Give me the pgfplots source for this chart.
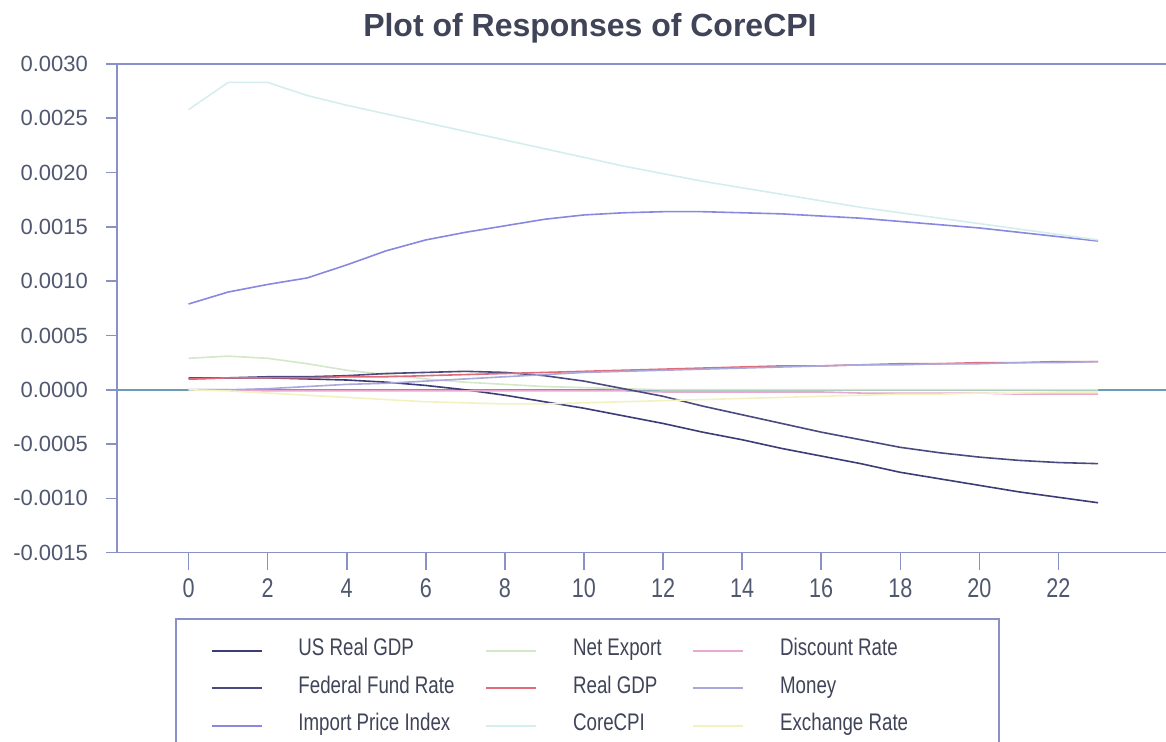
\documentclass[border=0pt]{standalone}
\usepackage{fontspec}
\setmainfont{Liberation Sans}
\newfontfamily\legendfont{Liberation Sans}[FakeStretch=0.78]
\newfontfamily\xtickfont{Liberation Sans}[FakeStretch=0.8]
\usepackage{pgfplots}
\pgfplotsset{compat=1.18}
\usepackage{pgfplotstable}

\definecolor{axiscol}{HTML}{8A90C8}
\definecolor{labelcol}{HTML}{505870}
\definecolor{titlecol}{HTML}{404458}
\definecolor{zerocol}{HTML}{6A9EB0}
\definecolor{cUSGDP}{HTML}{3C3C78}
\definecolor{cFFR}{HTML}{4A4A80}
\definecolor{cIPI}{HTML}{8888E0}
\definecolor{cNX}{HTML}{D2E8C8}
\definecolor{cRGDP}{HTML}{E06A78}
\definecolor{cCPI}{HTML}{D4EEEE}
\definecolor{cDR}{HTML}{E8A8D0}
\definecolor{cMoney}{HTML}{A8A8DC}
\definecolor{cER}{HTML}{F2F2C0}

\pgfplotstableread{
t usgdp ffr ipi nx rgdp cpi dr money er
0 0.00010 0.00011 0.00079 0.00029 0.00010 0.00258 0.00000 0.00000 0.00000
1 0.00011 0.00011 0.00090 0.00031 0.00011 0.00283 0.00000 0.00000 -0.00001
2 0.00011 0.00012 0.00097 0.00029 0.00011 0.00283 -0.00001 0.00001 -0.00003
3 0.00010 0.00012 0.00103 0.00024 0.00011 0.00271 -0.00001 0.00003 -0.00005
4 0.00009 0.00013 0.00115 0.00018 0.00012 0.00262 -0.00001 0.00005 -0.00007
5 0.00007 0.00015 0.00128 0.00014 0.00012 0.00254 -0.00001 0.00006 -0.00009
6 0.00004 0.00016 0.00138 0.00010 0.00013 0.00246 -0.00001 0.00008 -0.00011
7 0.00000 0.00017 0.00145 0.00007 0.00014 0.00238 -0.00001 0.00010 -0.00012
8 -0.00005 0.00016 0.00151 0.00005 0.00015 0.00230 -0.00001 0.00012 -0.00013
9 -0.00011 0.00013 0.00157 0.00003 0.00016 0.00222 -0.00001 0.00014 -0.00013
10 -0.00017 0.00008 0.00161 0.00002 0.00017 0.00214 -0.00001 0.00016 -0.00012
11 -0.00024 0.00001 0.00163 0.00001 0.00018 0.00206 -0.00001 0.00017 -0.00011
12 -0.00031 -0.00006 0.00164 0.00000 0.00019 0.00199 -0.00002 0.00018 -0.00010
13 -0.00039 -0.00015 0.00164 0.00000 0.00020 0.00192 -0.00002 0.00019 -0.00009
14 -0.00046 -0.00023 0.00163 0.00000 0.00021 0.00186 -0.00002 0.00020 -0.00008
15 -0.00054 -0.00031 0.00162 0.00000 0.00022 0.00180 -0.00002 0.00021 -0.00007
16 -0.00061 -0.00039 0.00160 0.00000 0.00022 0.00174 -0.00002 0.00022 -0.00006
17 -0.00068 -0.00046 0.00158 0.00000 0.00023 0.00168 -0.00003 0.00023 -0.00005
18 -0.00076 -0.00053 0.00155 0.00000 0.00024 0.00163 -0.00003 0.00023 -0.00004
19 -0.00082 -0.00058 0.00152 0.00000 0.00024 0.00158 -0.00003 0.00024 -0.00004
20 -0.00088 -0.00062 0.00149 0.00000 0.00025 0.00153 -0.00003 0.00024 -0.00003
21 -0.00094 -0.00065 0.00145 0.00000 0.00025 0.00148 -0.00004 0.00025 -0.00003
22 -0.00099 -0.00067 0.00141 0.00000 0.00026 0.00143 -0.00004 0.00025 -0.00002
23 -0.00104 -0.00068 0.00137 0.00000 0.00026 0.00138 -0.00004 0.00026 -0.00002
}\datatable

\begin{document}
\begin{tikzpicture}
\path[use as bounding box] (0,0) rectangle (583pt,371pt);
\begin{axis}[
  at={(58.5pt,94.65pt)}, anchor=south west,
  scale only axis, width=525.5pt, height=244.35pt,
  xmin=-1.81, xmax=24.77, ymin=-0.0015, ymax=0.003,
  xtick=\empty, minor xtick={1,3,...,23},
  extra x ticks={0,2,...,22},
  extra x tick style={major tick length=8.5pt},
  ytick={-0.0015,-0.001,-0.0005,0,0.0005,0.001,0.0015,0.002,0.0025,0.003},
  scaled y ticks=false,
  xtick pos=bottom, ytick pos=left,
  tick align=outside, major tick length=5.5pt, minor tick length=4.5pt,
  axis line style={axiscol, line width=0.8pt},
  every tick/.style={axiscol, line width=0.8pt},
  ticklabel style={text=labelcol},
  yticklabel style={font=\fontsize{11}{13}\selectfont, xshift=-5.5pt, /pgf/number format/fixed, /pgf/number format/fixed zerofill, /pgf/number format/precision=4, /pgf/number format/assume math mode=true},
  xticklabel style={font=\xtickfont\fontsize{13.5}{15}\selectfont, yshift=-1pt, /pgf/number format/assume math mode=true},
  title={Plot of Responses of CoreCPI},
  title style={at={(0.45,1)}, anchor=base, yshift=7.5pt, font=\bfseries\fontsize{16}{19}\selectfont, text=titlecol},
  every axis plot/.append style={line width=0.8pt},
  legend columns=3,
  legend cell align=left,
  legend image code/.code={\draw[#1] (0pt,0pt) -- (25pt,0pt);},
  legend style={at={(0.0552,-0.1336)}, anchor=north west, draw=axiscol, line width=0.8pt,
    font=\legendfont\fontsize{12}{14}\selectfont, text=titlecol,
    inner xsep=17.5pt, inner ysep=10pt, row sep=6.75pt,
    nodes={inner xsep=0pt, inner ysep=0pt, text height=8.5pt, text depth=3.5pt},
    /tikz/every odd column/.append style={column sep=18pt},
    /tikz/every even column/.append style={column sep=15.5pt},
    /tikz/column 6/.append style={nodes={text width=92pt, align=flush left}}},
]
\addplot[zerocol, line width=0.8pt, forget plot] coordinates {(-1.81,0) (24.77,0)};
\addplot[cUSGDP] table[x=t, y=usgdp] {\datatable};
\addlegendentry{US Real GDP}
\addplot[cNX] table[x=t, y=nx] {\datatable};
\addlegendentry{Net Export}
\addplot[cDR] table[x=t, y=dr] {\datatable};
\addlegendentry{Discount Rate}
\addplot[cFFR] table[x=t, y=ffr] {\datatable};
\addlegendentry{Federal Fund Rate}
\addplot[cRGDP] table[x=t, y=rgdp] {\datatable};
\addlegendentry{Real GDP}
\addplot[cMoney] table[x=t, y=money] {\datatable};
\addlegendentry{Money}
\addplot[cIPI] table[x=t, y=ipi] {\datatable};
\addlegendentry{Import Price Index}
\addplot[cCPI] table[x=t, y=cpi] {\datatable};
\addlegendentry{CoreCPI}
\addplot[cER] table[x=t, y=er] {\datatable};
\addlegendentry{Exchange Rate}
\end{axis}
\end{tikzpicture}
\end{document}
